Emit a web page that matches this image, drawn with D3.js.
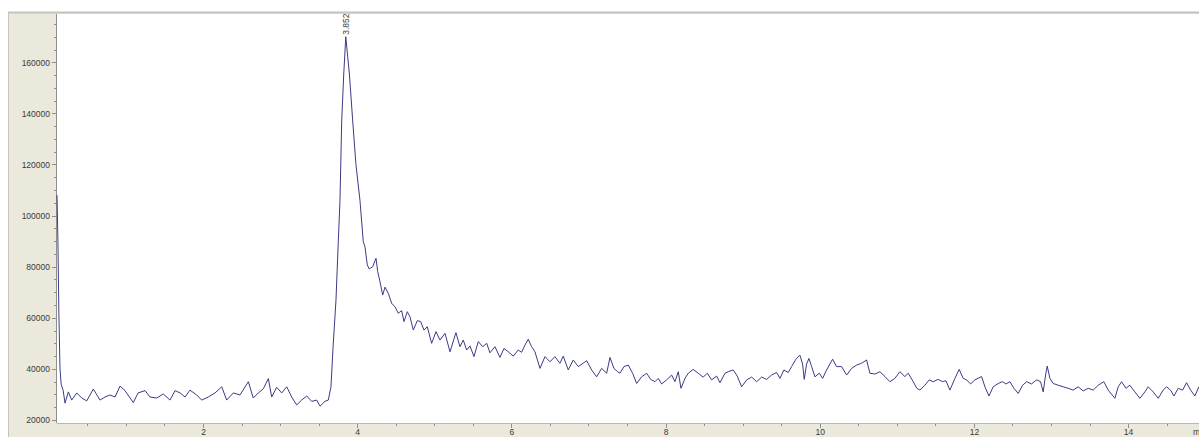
<!DOCTYPE html>
<html>
<head>
<meta charset="utf-8">
<script src="https://cdn.jsdelivr.net/npm/d3@7"></script>
<style>
  html, body { margin: 0; padding: 0; background: #ffffff; overflow: hidden; }
  .axis text { font-family: "Liberation Sans", Arial, sans-serif; font-size: 8.5px; fill: #3a3a3a; }
  .axis path, .axis line { stroke: #8e8e8e; shape-rendering: crispEdges; }
</style>
</head>
<body>
<svg id="chart"></svg>
<script>
// chromatogram trace, [retention time (min), counts]
var solventFront = [
  [0.106, 108000], [0.118, 90000], [0.130, 62000], [0.145, 40000], [0.160, 34000], [0.185, 31700]
];
var baselineBefore = [
  [0.210, 26600], [0.253, 31000], [0.297, 27800], [0.362, 30600], [0.427, 28600], [0.492, 27500],
  [0.577, 32100], [0.664, 27800], [0.729, 29000], [0.794, 29800], [0.859, 29000], [0.924, 33300],
  [0.988, 31500], [1.096, 26800], [1.157, 30600], [1.248, 31500], [1.313, 29000], [1.399, 28600],
  [1.485, 30200], [1.572, 27800], [1.637, 31500], [1.702, 30600], [1.767, 29000], [1.831, 31700],
  [1.918, 29800], [1.983, 27800], [2.069, 29000], [2.156, 30600], [2.243, 33000], [2.307, 27800],
  [2.393, 30600], [2.480, 29800], [2.588, 35000], [2.652, 28600], [2.717, 30600], [2.782, 32200],
  [2.847, 36200], [2.891, 29000], [2.956, 32800], [3.021, 30600], [3.086, 33000], [3.150, 29000],
  [3.215, 25900], [3.280, 27800], [3.345, 29400], [3.410, 27300], [3.475, 27800], [3.518, 25400],
  [3.582, 27300], [3.625, 27800]
];
var peakRise = [
  [3.660, 33000], [3.686, 48000], [3.725, 67000], [3.755, 90000], [3.777, 106000], [3.799, 137000],
  [3.825, 155000], [3.852, 170000]
];
var peakTail = [
  [3.900, 155000], [3.942, 137000], [3.984, 120000], [4.036, 106000], [4.079, 89800], [4.101, 87800],
  [4.131, 80700], [4.157, 79100], [4.201, 80000], [4.244, 83300], [4.266, 78100], [4.296, 74100],
  [4.331, 68900], [4.361, 72000], [4.403, 69600], [4.447, 65700], [4.490, 64300], [4.533, 61800],
  [4.577, 62800], [4.607, 58500], [4.650, 62400], [4.685, 60400], [4.728, 55200], [4.780, 58900],
  [4.824, 58500], [4.866, 55200], [4.909, 56500], [4.966, 50000], [5.022, 54600], [5.074, 51300],
  [5.139, 53900], [5.204, 46700], [5.281, 54200], [5.333, 48700], [5.376, 51300], [5.420, 47400],
  [5.463, 49000], [5.515, 44800], [5.571, 50700], [5.628, 48700], [5.680, 50000], [5.722, 46300],
  [5.787, 48700], [5.852, 44500], [5.904, 48000], [5.960, 46700], [6.025, 45000], [6.089, 47400],
  [6.133, 46500], [6.176, 49300], [6.219, 51600], [6.263, 48700], [6.306, 46700], [6.371, 40200],
  [6.436, 44800], [6.501, 42800], [6.565, 44800], [6.630, 42200], [6.673, 45000], [6.738, 39600],
  [6.803, 43500], [6.868, 40900], [6.977, 43200], [7.041, 39600], [7.106, 36900], [7.171, 40200],
  [7.236, 38300], [7.279, 44500], [7.331, 40200], [7.374, 39000]
];
var midBaseline = [
  [7.409, 38300], [7.460, 40900], [7.516, 41500], [7.573, 38300], [7.625, 34300], [7.690, 36900],
  [7.755, 38300], [7.807, 35900], [7.863, 35000], [7.906, 36300], [7.949, 34100], [8.014, 35700],
  [8.079, 37600], [8.122, 35000], [8.165, 38900], [8.200, 32400], [8.252, 36300], [8.295, 38300],
  [8.359, 39800], [8.424, 38300], [8.489, 36800], [8.541, 38300], [8.598, 35700], [8.663, 37200],
  [8.706, 34600], [8.771, 38300], [8.813, 38900], [8.878, 39600], [8.930, 37200], [8.987, 33000],
  [9.052, 35700], [9.117, 36800], [9.182, 35000], [9.247, 36800], [9.311, 35900], [9.376, 37600],
  [9.441, 38600], [9.484, 36300], [9.536, 39600], [9.591, 38600], [9.635, 40900], [9.691, 43800],
  [9.743, 45400], [9.778, 41900], [9.799, 35900], [9.830, 41900], [9.860, 44100], [9.895, 40900],
  [9.938, 36900], [9.994, 38300], [10.038, 36300], [10.089, 39600], [10.167, 43800], [10.219, 40900],
  [10.284, 40900], [10.349, 37600], [10.414, 40200], [10.479, 41500], [10.544, 42200], [10.608, 43500],
  [10.651, 38300], [10.716, 38000], [10.781, 38900], [10.846, 37000], [10.911, 35000], [10.975, 36300],
  [11.040, 38900], [11.105, 37000], [11.148, 38300], [11.213, 35000], [11.260, 32400]
];
var lateBaseline = [
  [11.300, 31700], [11.364, 33600], [11.420, 35700], [11.472, 35000], [11.537, 35900], [11.594, 35000],
  [11.637, 35400], [11.689, 31700], [11.754, 36300], [11.809, 39800], [11.861, 36300], [11.905, 35700],
  [11.957, 34100], [12.013, 35700], [12.100, 37000], [12.143, 33000], [12.195, 29400], [12.250, 33000],
  [12.315, 34300], [12.372, 35000], [12.415, 34100], [12.467, 35000], [12.519, 32400], [12.575, 30400],
  [12.632, 33600], [12.684, 35000], [12.748, 34100], [12.813, 35700], [12.865, 35000], [12.899, 31000],
  [12.930, 37600], [12.951, 41100], [12.986, 36300], [13.029, 34300], [13.094, 33600], [13.159, 33000],
  [13.223, 32400], [13.288, 31700], [13.353, 33000], [13.418, 31400], [13.483, 32400], [13.548, 31700],
  [13.612, 33600], [13.686, 35000], [13.742, 31700], [13.829, 28500], [13.872, 33000], [13.916, 35000],
  [13.972, 32400], [14.023, 33600], [14.088, 31000], [14.153, 28500], [14.218, 31000], [14.261, 33000],
  [14.326, 31000], [14.391, 28500], [14.455, 31700], [14.500, 33000], [14.551, 31700], [14.595, 29400],
  [14.650, 32400], [14.707, 31700], [14.759, 34600], [14.811, 31700], [14.867, 29400], [14.918, 33000]
];

var peakLabels = [{ rt: 3.852, counts: 170000, text: "3.852" }];

var xMajor = [2, 4, 6, 8, 10, 12, 14];
var yMajor = [20000, 40000, 60000, 80000, 100000, 120000, 140000, 160000];

var trace = solventFront.concat(baselineBefore, peakRise, peakTail, midBaseline, lateBaseline);

var w = 1199;
var h = 437;
var pl = 57;
var pt = 14;
var pb = 423;

var svg = d3.select("#chart").attr("width", w).attr("height", h);

// beige frame round the plot
svg.append("rect")
  .attr("x", 8.5).attr("y", 12.5)
  .attr("width", w).attr("height", h)
  .attr("fill", "#ebe9dc")
  .attr("stroke", "#c4c4bc")
  .attr("stroke-width", 1);
svg.append("line")
  .attr("x1", 8).attr("x2", w).attr("y1", 12.5).attr("y2", 12.5)
  .attr("stroke", "#c4c4bc").attr("stroke-width", 2);

svg.append("rect")
  .attr("x", pl).attr("y", pt)
  .attr("width", w - pl).attr("height", pb - pt)
  .attr("fill", "#ffffff");

const x = d3.scaleLinear().domain([0.106, 14.92]).range([pl, w]);
const y = d3.scaleLinear().domain([18830, 178900]).range([pb, pt]);

var xMinor = d3.range(0.5, 15, 0.5).filter((d) => xMajor.indexOf(d) < 0);
var yMinor = d3.range(25000, 180000, 5000).filter((d) => yMajor.indexOf(d) < 0);

svg.append("g")
  .attr("class", "axis")
  .attr("transform", `translate(0,${pb})`)
  .call(d3.axisBottom(x).tickValues(xMinor).tickSize(3).tickFormat(""))
  .call((g) => g.select(".domain").remove());

svg.append("g")
  .attr("class", "axis")
  .attr("transform", `translate(0,${pb})`)
  .call(d3.axisBottom(x).tickValues(xMajor).tickSize(5).tickPadding(1).tickFormat(d3.format("d")))
  .call((g) => g.select(".domain").remove());

svg.append("g")
  .attr("class", "axis")
  .attr("transform", `translate(${pl},0)`)
  .call(d3.axisLeft(y).tickValues(yMinor).tickSize(3).tickFormat(""))
  .call((g) => g.select(".domain").remove());

svg.append("g")
  .attr("class", "axis")
  .attr("transform", `translate(${pl},0)`)
  .call(d3.axisLeft(y).tickValues(yMajor).tickSize(5).tickPadding(2).tickFormat(d3.format("d")))
  .call((g) => g.select(".domain").remove());

// axis lines
svg.append("line")
  .attr("x1", pl - 0.5).attr("x2", pl - 0.5).attr("y1", pt).attr("y2", pb)
  .attr("stroke", "#8e8e8e");
svg.append("line")
  .attr("x1", pl).attr("x2", w).attr("y1", pb + 0.5).attr("y2", pb + 0.5)
  .attr("stroke", "#b8b8b0");

svg.append("text")
  .attr("x", 1193).attr("y", 435)
  .style("font-family", "Liberation Sans, Arial, sans-serif")
  .style("font-size", "8.5px")
  .style("fill", "#3a3a3a")
  .text("min");

const line = d3.line()
  .x((d) => x(d[0]))
  .y((d) => y(d[1]));

svg.append("path")
  .datum(trace)
  .attr("d", line)
  .attr("fill", "none")
  .attr("stroke", "#3b3b86")
  .attr("stroke-width", 1);

svg.selectAll(".peak")
  .data(peakLabels)
  .enter()
  .append("text")
  .attr("class", "peak")
  .attr("transform", (d) => `translate(${x(d.rt) + 3},${y(d.counts) - 2}) rotate(-90)`)
  .style("font-family", "Liberation Sans, Arial, sans-serif")
  .style("font-size", "8.5px")
  .style("fill", "#3a3a3a")
  .text((d) => d.text);
</script>
</body>
</html>
